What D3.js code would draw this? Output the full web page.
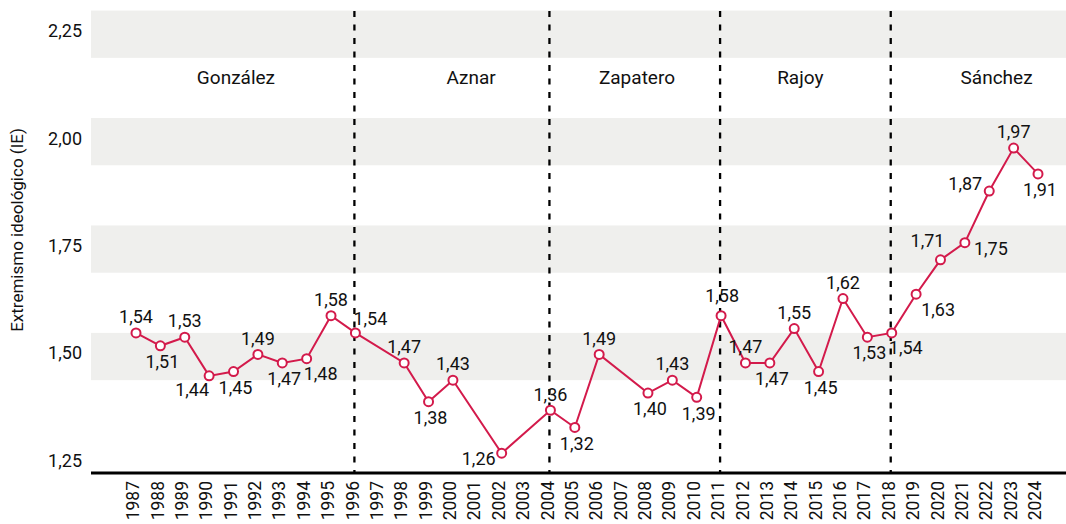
<!DOCTYPE html>
<html>
<head>
<meta charset="utf-8">
<script src="https://cdn.jsdelivr.net/npm/d3@7"></script>
<style>
  html, body { margin: 0; padding: 0; background: #fff; }
  svg { display: block; font-family: Roboto, "Noto Sans", sans-serif; }
  .tick-y { font-size: 18px; fill: #111; }
  .year { font-size: 17.5px; fill: #111; }
  .lbl { font-size: 18px; fill: #111; }
  .leader { font-size: 19px; fill: #111; }
  .ytitle { font-size: 17px; fill: #111; }
</style>
</head>
<body>
<svg id="chart" width="1066" height="524"></svg>
<script>
// years on the x axis
var years = [1987, 1988, 1989, 1990, 1991, 1992, 1993, 1994, 1995, 1996, 1997, 1998, 1999,
  2000, 2001, 2002, 2003, 2004, 2005, 2006, 2007, 2008, 2009, 2010, 2011, 2012, 2013,
  2014, 2015, 2016, 2017, 2018, 2019, 2020, 2021, 2022, 2023, 2024];

// survey years that have a value
var dataYears = [1987, 1988, 1989, 1990, 1991, 1992, 1993, 1994, 1995, 1996, 1998, 1999,
  2000, 2002, 2004, 2005, 2006, 2008, 2009, 2010, 2011, 2012, 2013, 2014, 2015, 2016,
  2017, 2018, 2019, 2020, 2021, 2022, 2023, 2024];
var values = [1.54, 1.51, 1.53, 1.44, 1.45, 1.49, 1.47, 1.48, 1.58, 1.54, 1.47, 1.38,
  1.43, 1.26, 1.36, 1.32, 1.49, 1.40, 1.43, 1.39, 1.58, 1.47, 1.47, 1.55, 1.45, 1.62,
  1.53, 1.54, 1.63, 1.71, 1.75, 1.87, 1.97, 1.91];
// where the value label sits relative to its point
var labelSide = ["t", "b", "t", "bl", "b", "t", "b", "br", "t", "tr", "t", "b",
  "t", "lb", "t", "b", "t", "b", "t", "b", "tt", "t", "b", "t", "b", "t",
  "b", "br", "br2", "tl", "r", "lt", "t", "b"];

var yTicks = [1.25, 1.50, 1.75, 2.00, 2.25];
var bandTicks = [1.50, 1.75, 2.00, 2.25];

// changes of government and the prime ministers
var breakYears = [1996, 2004, 2011, 2018];
var leaders = ["González", "Aznar", "Zapatero", "Rajoy", "Sánchez"];
var leaderAt = [1991.1, 2000.75, 2007.55, 2014.25, 2022.3];

var red = "#d31a4b";

var svg = d3.select("svg"),
    margin = { top: 11, right: 0, bottom: 51, left: 91 },
    width = 1066 - margin.left - margin.right,
    height = 524 - margin.top - margin.bottom,
    g = svg.append("g").attr("transform", "translate(" + margin.left + "," + margin.top + ")");

var x = d3.scaleLinear().domain([1987, 2024]).range([45, 947]);
var y = d3.scaleLinear().domain([1.214, 2.289]).range([height, 0]);

var fmt = function(v) { return d3.format(".2f")(v).replace(".", ","); };

// grey bands
g.selectAll(".band")
    .data(bandTicks)
    .enter().append("rect")
    .attr("class", "band")
    .attr("x", 0)
    .attr("width", width)
    .attr("y", function(d) { return y(d + 0.04); })
    .attr("height", function(d) { return y(d - 0.07) - y(d + 0.04); })
    .attr("fill", "#efefed");

// y tick labels
g.selectAll(".tick-y")
    .data(yTicks)
    .enter().append("text")
    .attr("class", "tick-y")
    .attr("x", -9)
    .attr("y", function(d) { return y(d) + 3; })
    .attr("dy", "0.35em")
    .attr("text-anchor", "end")
    .text(fmt);

svg.append("text")
    .attr("class", "ytitle")
    .attr("transform", "translate(23,230) rotate(-90)")
    .attr("text-anchor", "middle")
    .text("Extremismo ideológico (IE)");

// dashed government changes
g.selectAll(".brk")
    .data(breakYears)
    .enter().append("line")
    .attr("class", "brk")
    .attr("x1", function(d) { return x(d) - 1; })
    .attr("x2", function(d) { return x(d) - 1; })
    .attr("y1", 0)
    .attr("y2", height)
    .attr("stroke", "#000")
    .attr("stroke-width", 2.3)
    .attr("stroke-dasharray", "6,7.5");

g.selectAll(".leader")
    .data(leaders)
    .enter().append("text")
    .attr("class", "leader")
    .attr("x", function(d, i) { return x(leaderAt[i]); })
    .attr("y", 66)
    .attr("dy", "0.35em")
    .attr("text-anchor", "middle")
    .text(function(d) { return d; });

// x axis
g.append("line")
    .attr("x1", 0).attr("x2", width)
    .attr("y1", height).attr("y2", height)
    .attr("stroke", "#000")
    .attr("stroke-width", 3);

g.selectAll(".year")
    .data(years)
    .enter().append("text")
    .attr("class", "year")
    .attr("transform", function(d) { return "translate(" + (x(d) - 3) + "," + (height + 8) + ") rotate(-90)"; })
    .attr("dy", "0.35em")
    .attr("text-anchor", "end")
    .text(function(d) { return d; });

// the series
var points = dataYears.map(function(yr, i) {
    return { year: yr, value: values[i], side: labelSide[i] };
});

var line = d3.line()
    .x(function(d) { return x(d.year); })
    .y(function(d) { return y(d.value); });

g.append("path")
    .datum(points)
    .attr("d", line)
    .attr("fill", "none")
    .attr("stroke", red)
    .attr("stroke-width", 2);

g.selectAll(".dot")
    .data(points)
    .enter().append("circle")
    .attr("class", "dot")
    .attr("cx", function(d) { return x(d.year); })
    .attr("cy", function(d) { return y(d.value); })
    .attr("r", 4.5)
    .attr("fill", "#fff")
    .attr("stroke", red)
    .attr("stroke-width", 2);

var offsets = {
    t: [0, -16], tt: [1, -20], b: [2, 16], bl: [-17, 14], br: [14, 15], br2: [22, 15],
    tr: [15, -14], tl: [-13, -19], r: [26, 6], lb: [-23, 5], lt: [-24, -7]
};

g.selectAll(".lbl")
    .data(points)
    .enter().append("text")
    .attr("class", "lbl")
    .attr("x", function(d) { return x(d.year) + offsets[d.side][0]; })
    .attr("y", function(d) { return y(d.value) + offsets[d.side][1]; })
    .attr("dy", "0.35em")
    .attr("text-anchor", "middle")
    .text(function(d) { return fmt(d.value); });
</script>
</body>
</html>
